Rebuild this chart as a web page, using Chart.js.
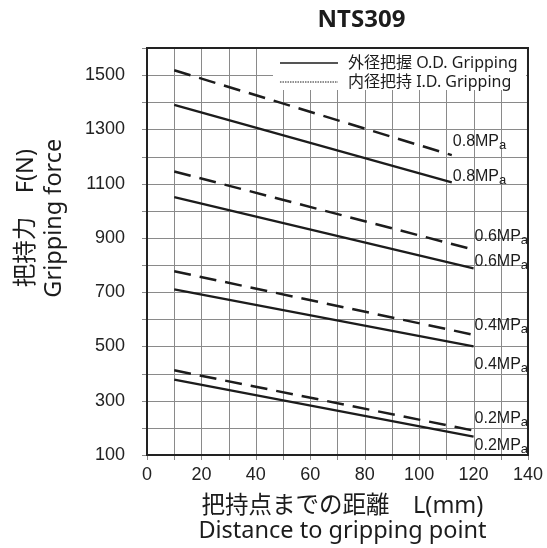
<!DOCTYPE html>
<html><head><meta charset="utf-8">
<style>html,body{margin:0;padding:0;background:#fff}#wrap{width:547px;height:548px;position:relative}</style>
<script src="https://cdn.jsdelivr.net/npm/chart.js@4/dist/chart.umd.min.js"></script>
</head><body><div id="wrap"><canvas id="c" width="547" height="548"></canvas></div>
<script>
const chartTitle = 'NTS309';
const pressures = ['0.8', '0.6', '0.4', '0.2'];
const startDistance = [10, 10, 10, 10];
const endDistance = [112, 120, 120, 120];
const odStart = [1390, 1050, 710, 378];
const odEnd = [1105, 788, 500, 168];
const idStart = [1518, 1145, 777, 412];
const idEnd = [1205, 857, 543, 190];
const xTickLabels = [0, 20, 40, 60, 80, 100, 120, 140];
const yTickLabels = [100, 300, 500, 700, 900, 1100, 1300, 1500];
const legendLabels = ['外径把握 O.D. Gripping', '内径把持 I.D. Gripping'];
const yTitle = ['把持力　F(N)', 'Gripping force'];
const xTitle = ['把持点までの距離　L(mm)', 'Distance to gripping point'];

const INK = '#1c1c1c';
const GRID = '#8a8a8a';
const FONT = "'Noto Sans', 'Noto Sans CJK JP', sans-serif";
const TICKFONT = "'Liberation Sans', Arial, sans-serif";

const datasets = [];
pressures.forEach((p, i) => {
  datasets.push({
    label: 'OD ' + p, kind: 'od', pressure: p,
    data: [{x: startDistance[i], y: odStart[i]}, {x: endDistance[i], y: odEnd[i]}],
    borderColor: INK, borderWidth: 2.3, pointRadius: 0, fill: false, tension: 0
  });
  datasets.push({
    label: 'ID ' + p, kind: 'id', pressure: p,
    data: [{x: startDistance[i], y: idStart[i]}, {x: endDistance[i], y: idEnd[i]}],
    borderColor: INK, borderWidth: 2.5, borderDash: [17, 9], pointRadius: 0, fill: false, tension: 0
  });
});

// vertical offsets of pressure labels relative to line end (style)
const labelOffsets = { od: [-6, -7, 18, 9], id: [-14, -13, -9, -12] };

const decor = {
  id: 'decor',
  beforeDatasetsDraw(chart) {
    const ctx = chart.ctx, a = chart.chartArea;
    ctx.save();
    ctx.strokeStyle = GRID;
    ctx.lineWidth = 1;
    const xs = chart.scales.x, ys = chart.scales.y;
    xs.ticks.forEach(t => {
      const px = Math.round(xs.getPixelForValue(t.value)) + 0.5;
      ctx.beginPath(); ctx.moveTo(px, a.top); ctx.lineTo(px, a.bottom + 5); ctx.stroke();
    });
    ys.ticks.forEach(t => {
      const py = Math.round(ys.getPixelForValue(t.value)) + 0.5;
      ctx.beginPath(); ctx.moveTo(a.left - 5, py); ctx.lineTo(a.right, py); ctx.stroke();
    });
    ctx.restore();
  },
  afterDatasetsDraw(chart) {
    const ctx = chart.ctx, a = chart.chartArea;
    ctx.save();
    // pressure labels
    chart.data.datasets.forEach((ds, di) => {
      const meta = chart.getDatasetMeta(di);
      const pt = meta.data[meta.data.length - 1];
      const idx = pressures.indexOf(ds.pressure);
      const x = pt.x + 1, y = pt.y + labelOffsets[ds.kind][idx];
      ctx.fillStyle = INK;
      ctx.textBaseline = 'middle';
      ctx.textAlign = 'left';
      ctx.font = "16px " + TICKFONT;
      const main = ds.pressure + 'MP';
      ctx.fillText(main, x, y);
      const w = ctx.measureText(main).width;
      ctx.font = "13px " + TICKFONT;
      ctx.fillText('a', x + w, y + 4);
    });
    // legend box
    const bx = a.right - 255, by = a.top + 1, bw = 253, bh = 41;
    ctx.fillStyle = '#fff';
    ctx.fillRect(bx, by, bw, bh);
    ctx.strokeStyle = INK;
    ctx.lineWidth = 1.3;
    ctx.beginPath(); ctx.moveTo(bx + 7, by + 14); ctx.lineTo(bx + 65, by + 14); ctx.stroke();
    ctx.lineWidth = 1;
    ctx.setLineDash([1.5, 1]);
    ctx.beginPath(); ctx.moveTo(bx + 7, by + 33); ctx.lineTo(bx + 65, by + 33); ctx.stroke();
    ctx.setLineDash([]);
    ctx.fillStyle = INK;
    ctx.font = "16px " + FONT;
    ctx.textBaseline = 'middle';
    ctx.fillText(legendLabels[0], bx + 75, by + 14);
    ctx.fillText(legendLabels[1], bx + 75, by + 33);
    // frame
    ctx.lineWidth = 2;
    ctx.strokeStyle = '#222';
    ctx.strokeRect(a.left, a.top, a.right - a.left, a.bottom - a.top);
    ctx.restore();
  },
  afterDraw(chart) {
    const ctx = chart.ctx, a = chart.chartArea;
    const w = a.right - a.left, h = a.bottom - a.top;
    ctx.save();
    ctx.fillStyle = INK;
    ctx.textAlign = 'center';
    ctx.textBaseline = 'middle';
    ctx.font = "bold 24px " + FONT;
    ctx.fillText(chartTitle, a.left + w * 0.563, 20);
    ctx.font = "23.5px " + FONT;
    const xc = a.left + w * 0.513;
    ctx.fillText(xTitle[0], xc, a.bottom + 51);
    ctx.fillText(xTitle[1], xc, a.bottom + 76);
    const yc = a.top + h * 0.418;
    ctx.translate(26, yc);
    ctx.rotate(-Math.PI / 2);
    ctx.fillText(yTitle[0], 0, 0);
    ctx.fillText(yTitle[1], 0, 28);
    ctx.restore();
  }
};

new Chart(document.getElementById('c'), {
  type: 'line',
  data: { datasets },
  options: {
    responsive: false, animation: false, devicePixelRatio: 1,
    layout: { padding: { top: 48, left: 0, right: 17, bottom: 0 } },
    plugins: { legend: { display: false }, title: { display: false }, tooltip: { enabled: false } },
    scales: {
      x: {
        type: 'linear', min: 0, max: 140,
        afterFit(s) { s.height = 93; },
        border: { display: false },
        grid: { display: true, drawOnChartArea: false, drawTicks: true, tickLength: 5, tickColor: 'rgba(0,0,0,0)' },
        ticks: {
          stepSize: 10, autoSkip: false, maxRotation: 0, padding: 4, color: '#222',
          font: { family: TICKFONT, size: 18 },
          callback: v => xTickLabels.includes(v) ? String(v) : ''
        }
      },
      y: {
        type: 'linear', min: 100, max: 1600,
        afterFit(s) { s.width = 147; },
        border: { display: false },
        grid: { display: true, drawOnChartArea: false, drawTicks: true, tickLength: 5, tickColor: 'rgba(0,0,0,0)' },
        ticks: {
          stepSize: 100, autoSkip: false, padding: 17, color: '#222',
          font: { family: TICKFONT, size: 18 },
          callback: v => yTickLabels.includes(v) ? String(v) : ''
        }
      }
    }
  },
  plugins: [decor]
});
</script></body></html>
